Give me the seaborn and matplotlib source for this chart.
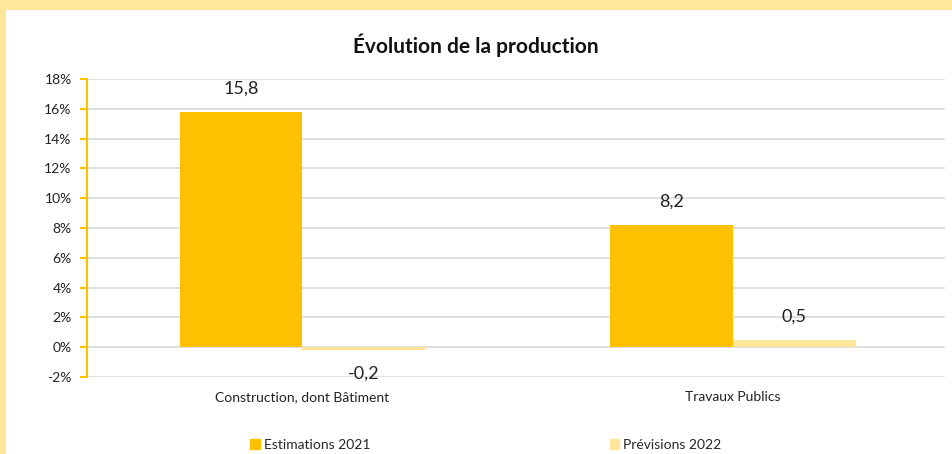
import matplotlib
matplotlib.use("Agg")
import matplotlib.pyplot as plt
import matplotlib.patches as mpatches
import seaborn as sns
import pandas as pd
from matplotlib.ticker import FuncFormatter

categories = ["Construction, dont Bâtiment", "Travaux Publics"]
series = ["Estimations 2021", "Prévisions 2022"]
est_2021 = [15.8, 8.2]
prev_2022 = [-0.2, 0.5]
yticks = [-2, 0, 2, 4, 6, 8, 10, 12, 14, 16, 18]
title = "Évolution de la production"

colors = ["#FFC000", "#FFE699"]

df = pd.DataFrame({
    "cat": categories * 2,
    "serie": [series[0]] * 2 + [series[1]] * 2,
    "val": est_2021 + prev_2022,
})

sns.set_theme(style="white")
plt.rcParams["font.family"] = ["Lato", "DejaVu Sans"]

fig = plt.figure(figsize=(9.52, 4.54), dpi=100, facecolor="#FFE699")
fig.patches.append(mpatches.Rectangle((6 / 952, 0), 1, 1 - 10 / 454,
                                      transform=fig.transFigure, facecolor="white",
                                      edgecolor="none", zorder=-5))
ax = fig.add_axes([87 / 952, 1 - 377 / 454, (945 - 87) / 952, (377 - 79) / 454])
ax.set_facecolor("none")
ax.set_zorder(2)

sns.barplot(data=df, x="cat", y="val", hue="serie", palette=colors, width=0.57,
            ax=ax, legend=False, saturation=1, gap=0, linewidth=0)

ax.set_ylim(-2, 18)
ax.set_yticks(yticks)
ax.yaxis.set_major_formatter(FuncFormatter(lambda v, p: f"{int(v)}%"))
ax.grid(axis="y", color="#D9D9D9", linewidth=1.2)
ax.set_axisbelow(True)
for s in ["top", "right", "bottom"]:
    ax.spines[s].set_visible(False)
ax.spines["left"].set_color("#FFC000")
ax.spines["left"].set_linewidth(1.5)
ax.tick_params(axis="y", left=True, length=5, width=1.5, color="#FFC000",
               labelsize=10, labelcolor="#222222", pad=6)
ax.tick_params(axis="x", bottom=False, labelsize=10, labelcolor="#222222", pad=4)
ax.set_xlabel("")
ax.set_ylabel("")
ax.set_xlim(-0.5, 1.492)

for cont in ax.containers:
    ax.bar_label(cont, labels=[f"{v:.1f}".replace(".", ",") for v in cont.datavalues],
                 padding=11, fontsize=13, color="#222222")

fig.text(0.5, 1 - 45 / 454, title, ha="center", va="center", fontsize=15,
         fontweight="bold", color="#111111")

handles = [mpatches.Patch(color=c, label=l) for c, l in zip(colors, series)]
fig.legend(handles=handles, loc="center", bbox_to_anchor=(486 / 952, 1 - 445 / 454),
           ncol=2, frameon=False, fontsize=10, handlelength=0.7, handleheight=0.7,
           handletextpad=0.3, columnspacing=17.2)

fig.savefig("out.png", dpi=100, facecolor=fig.get_facecolor())
